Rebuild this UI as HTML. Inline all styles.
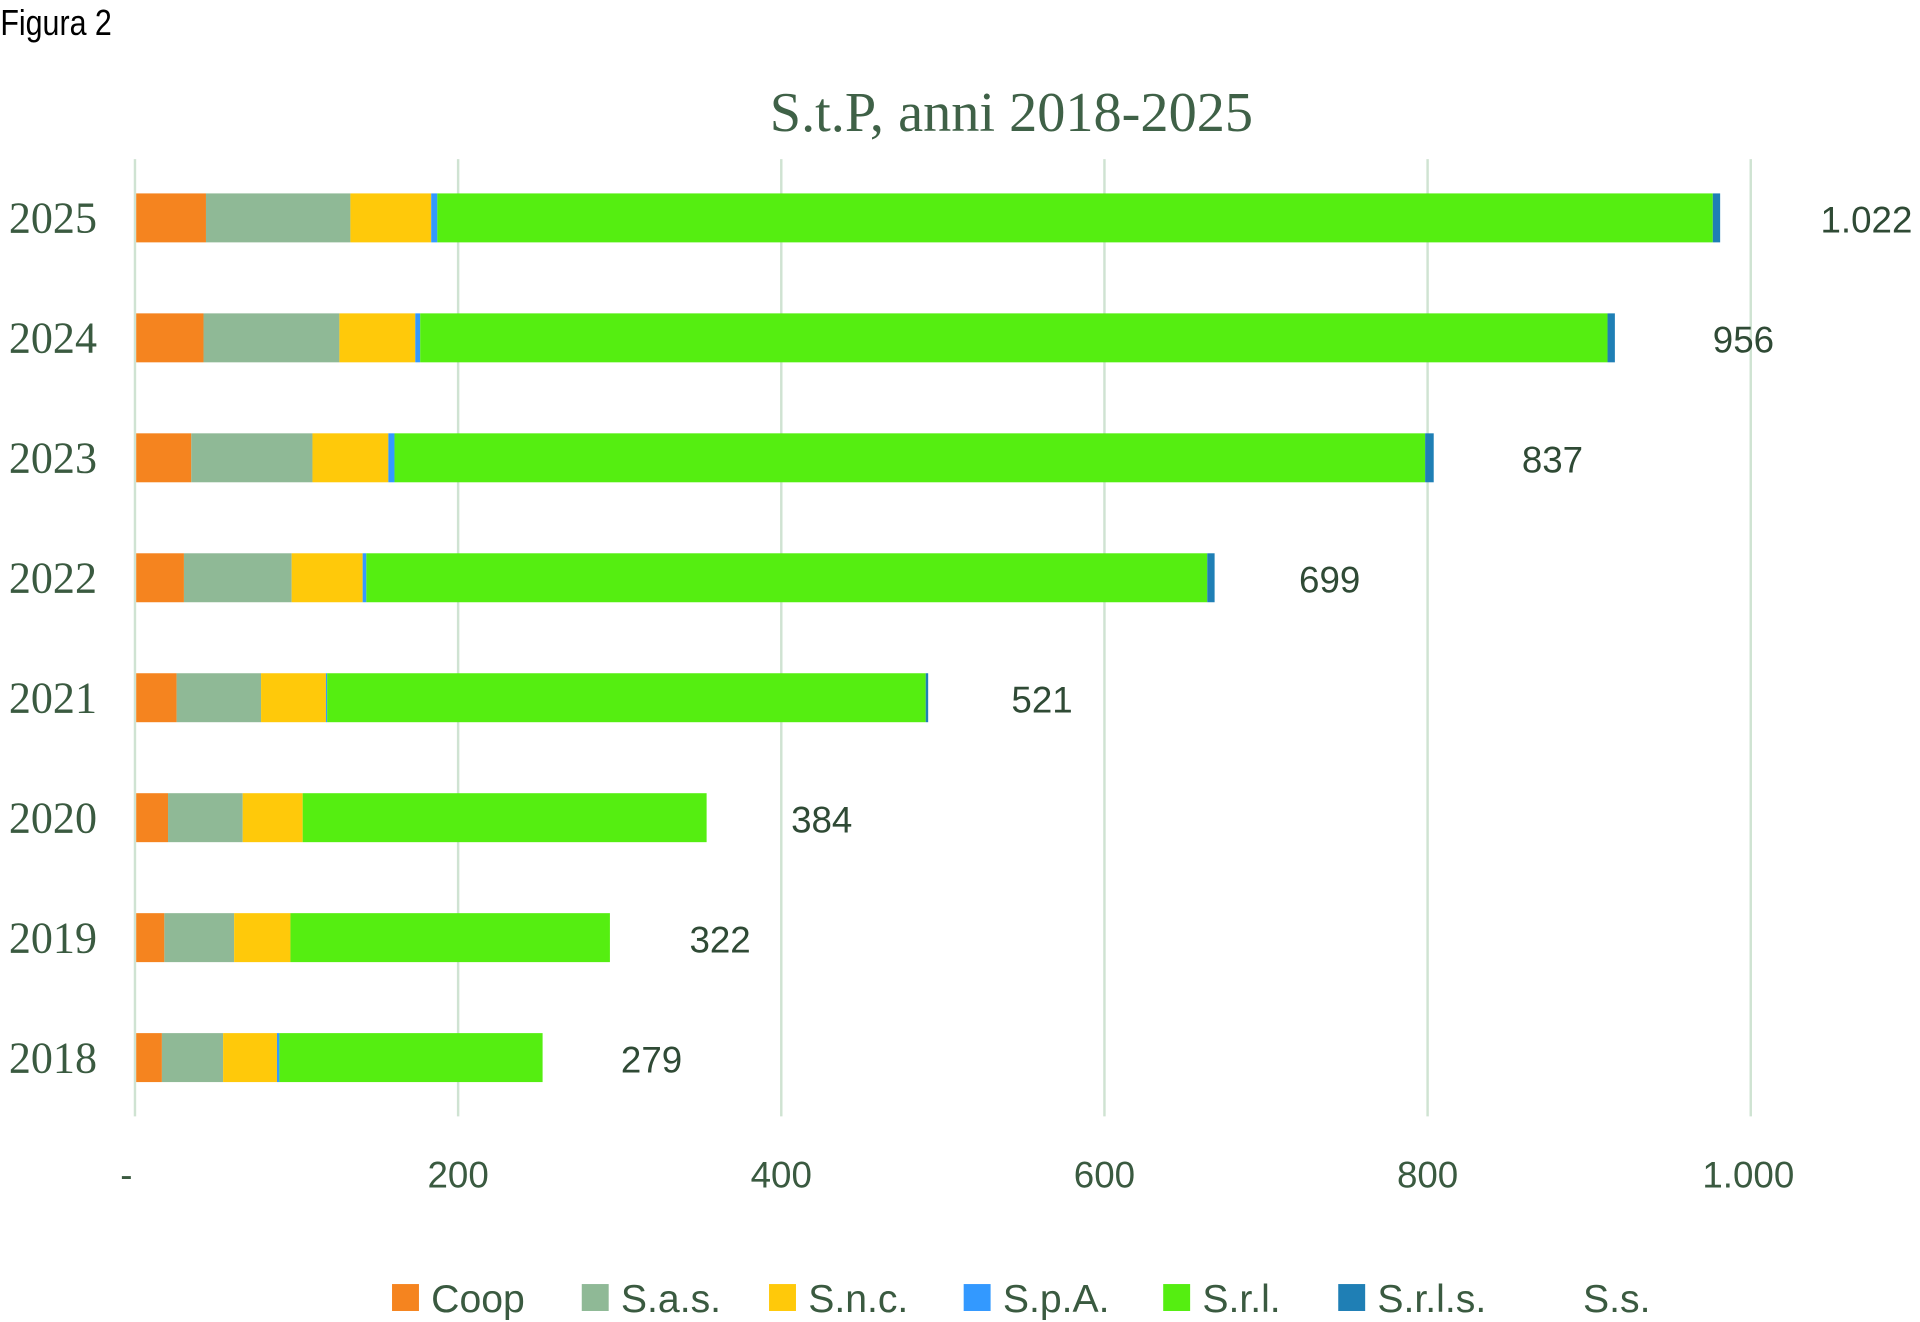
<!DOCTYPE html>
<html><head><meta charset="utf-8"><style>html,body{margin:0;padding:0;background:#fff}svg{display:block}</style></head>
<body>
<svg width="1920" height="1322" viewBox="0 0 1568 1080" xmlns="http://www.w3.org/2000/svg">
<rect width="1568" height="1080" fill="#fff"/>
<text x="0" y="26" font-family="Liberation Sans, sans-serif" font-size="27" fill="#000" transform="scale(0.92,1.1)" >Figura 2</text>
<text x="826" y="107" text-anchor="middle" font-family="Liberation Serif, serif" font-size="46" fill="#3f6147">S.t.P, anni 2018-2025</text>
<g stroke="#cfe3d2" stroke-width="2">
<line x1="110" y1="130" x2="110" y2="912"/><line x1="374" y1="130" x2="374" y2="912"/><line x1="638" y1="130" x2="638" y2="912"/><line x1="902" y1="130" x2="902" y2="912"/><line x1="1166" y1="130" x2="1166" y2="912"/><line x1="1430" y1="130" x2="1430" y2="912"/>
</g>
<g font-family="Liberation Sans, sans-serif" font-size="30" fill="#3a5a40" text-anchor="middle">
<text x="103" y="970">-</text><text x="374" y="970">200</text><text x="638" y="970">400</text><text x="902" y="970">600</text><text x="1166" y="970">800</text><text x="1428" y="970">1.000</text>
</g>
<g font-family="Liberation Serif, serif" font-size="36" fill="#3a5a40">
<text x="7" y="190">2025</text><text x="7" y="288">2024</text><text x="7" y="386">2023</text><text x="7" y="484">2022</text><text x="7" y="582">2021</text><text x="7" y="680">2020</text><text x="7" y="778">2019</text><text x="7" y="876">2018</text>
</g>
<g>
<rect x="111" y="158" width="57" height="40" fill="#f5841f"/><rect x="168" y="158" width="118" height="40" fill="#8fb996"/><rect x="286" y="158" width="66" height="40" fill="#ffc90a"/><rect x="352" y="158" width="5" height="40" fill="#3399ff"/><rect x="357" y="158" width="1042" height="40" fill="#55ee11"/><rect x="1399" y="158" width="6" height="40" fill="#1f7fb5"/>
<rect x="111" y="256" width="55" height="40" fill="#f5841f"/><rect x="166" y="256" width="111" height="40" fill="#8fb996"/><rect x="277" y="256" width="62" height="40" fill="#ffc90a"/><rect x="339" y="256" width="4" height="40" fill="#3399ff"/><rect x="343" y="256" width="970" height="40" fill="#55ee11"/><rect x="1313" y="256" width="6" height="40" fill="#1f7fb5"/>
<rect x="111" y="354" width="45" height="40" fill="#f5841f"/><rect x="156" y="354" width="99" height="40" fill="#8fb996"/><rect x="255" y="354" width="62" height="40" fill="#ffc90a"/><rect x="317" y="354" width="5" height="40" fill="#3399ff"/><rect x="322" y="354" width="842" height="40" fill="#55ee11"/><rect x="1164" y="354" width="7" height="40" fill="#1f7fb5"/>
<rect x="111" y="452" width="39" height="40" fill="#f5841f"/><rect x="150" y="452" width="88" height="40" fill="#8fb996"/><rect x="238" y="452" width="58" height="40" fill="#ffc90a"/><rect x="296" y="452" width="3" height="40" fill="#3399ff"/><rect x="299" y="452" width="687" height="40" fill="#55ee11"/><rect x="986" y="452" width="6" height="40" fill="#1f7fb5"/>
<rect x="111" y="550" width="33" height="40" fill="#f5841f"/><rect x="144" y="550" width="69" height="40" fill="#8fb996"/><rect x="213" y="550" width="53" height="40" fill="#ffc90a"/><rect x="266" y="550" width="1" height="40" fill="#3399ff"/><rect x="267" y="550" width="489" height="40" fill="#55ee11"/><rect x="756" y="550" width="2" height="40" fill="#1f7fb5"/>
<rect x="111" y="648" width="26" height="40" fill="#f5841f"/><rect x="137" y="648" width="61" height="40" fill="#8fb996"/><rect x="198" y="648" width="49" height="40" fill="#ffc90a"/><rect x="247" y="648" width="330" height="40" fill="#55ee11"/>
<rect x="111" y="746" width="23" height="40" fill="#f5841f"/><rect x="134" y="746" width="57" height="40" fill="#8fb996"/><rect x="191" y="746" width="46" height="40" fill="#ffc90a"/><rect x="237" y="746" width="261" height="40" fill="#55ee11"/>
<rect x="111" y="844" width="21" height="40" fill="#f5841f"/><rect x="132" y="844" width="50" height="40" fill="#8fb996"/><rect x="182" y="844" width="44" height="40" fill="#ffc90a"/><rect x="226" y="844" width="2" height="40" fill="#3399ff"/><rect x="228" y="844" width="215" height="40" fill="#55ee11"/>
</g>
<g font-family="Liberation Sans, sans-serif" font-size="30" fill="#2f4a35">
<text x="1487" y="190">1.022</text><text x="1399" y="288">956</text><text x="1243" y="386">837</text><text x="1061" y="484">699</text><text x="826" y="582">521</text><text x="646" y="680">384</text><text x="563" y="778">322</text><text x="507" y="876">279</text>
</g>
<g font-family="Liberation Sans, sans-serif" font-size="32" fill="#3a5a40">
<rect x="320" y="1049" width="22" height="22" fill="#f5841f"/><text x="352" y="1072">Coop</text>
<rect x="475" y="1049" width="22" height="22" fill="#8fb996"/><text x="507" y="1072">S.a.s.</text>
<rect x="628" y="1049" width="22" height="22" fill="#ffc90a"/><text x="660" y="1072">S.n.c.</text>
<rect x="787" y="1049" width="22" height="22" fill="#3399ff"/><text x="819" y="1072">S.p.A.</text>
<rect x="950" y="1049" width="22" height="22" fill="#55ee11"/><text x="982" y="1072">S.r.l.</text>
<rect x="1093" y="1049" width="22" height="22" fill="#1f7fb5"/><text x="1125" y="1072">S.r.l.s.</text>
<text x="1293" y="1072">S.s.</text>
</g>
</svg>
</body></html>
